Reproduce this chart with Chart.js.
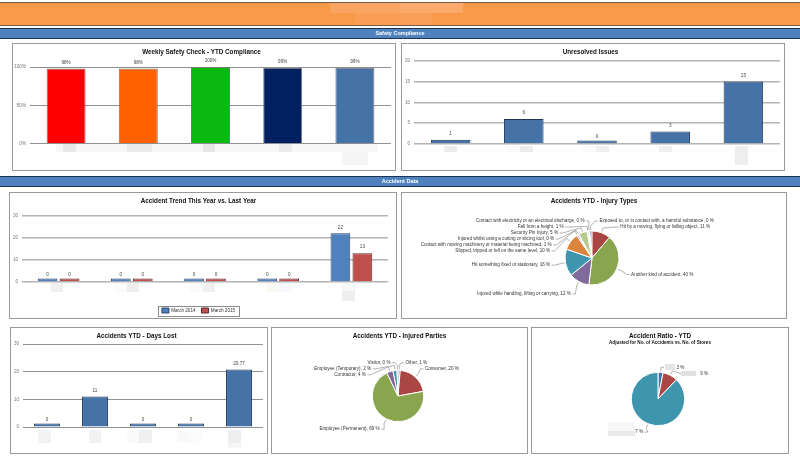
<!DOCTYPE html>
<html><head><meta charset="utf-8">
<script src="https://cdn.jsdelivr.net/npm/chart.js@4"></script>
<style>
html,body{margin:0;padding:0;background:#fff;width:800px;height:462px;overflow:hidden}
#page{position:absolute;left:0;top:0;width:800px;height:462px;filter:blur(0.4px)}
.abs{position:absolute}
.panel{position:absolute;box-sizing:border-box;border:1px solid #9a9a9a;background:#fff}
.panel canvas{position:absolute;left:-1px;top:-1px}
.band{position:absolute;left:0;width:800px;box-sizing:border-box;background:#4f81bd;border-top:1px solid #1c3557;border-bottom:1px solid #1c3557;color:#fff;font:bold 5.5px "Liberation Sans",sans-serif;text-align:center}
</style></head><body><div id="page"></div>
<script>
const FONT='"Liberation Sans", sans-serif';
const stores5=['','','','',''];
const complianceValues=[98,98,100,99,99];
const complianceColors=['#ff0000','#ff6000','#0ab80f','#00205f','#4572a7'];
const complianceTicks=[0,50,100];
const unresolvedValues=[1,6,0,3,15];
const trend2014=[0,0,0,0,22];
const trend2015=[0,0,0,0,13];
const daysLostValues=[0,11,0,0,20.77];
const injuryNames=['Exposed to, or in contact with, a harmful substance, 0 %','Hit by a moving, flying or falling object, 11 %','Another kind of accident, 40 %','Injured while handling, lifting or carrying, 12 %','Hit something fixed or stationary, 16 %','Slipped, tripped or fell on the same level, 10 %','Contact with moving machinery or material being machined, 1 %','Injured whilst using a cutting or slicing tool, 0 %','Security Pin Injury, 5 %','Fall from a height, 1 %','Contact with electricity or an electrical discharge, 0 %'];
const injuryValues=[1.4,11,40,12,16,10,1,0.5,5,1,0.5];
const injuryColors=['#4572a7','#aa4643','#89a54e','#80699b','#3d96ae','#db843d','#92a8cd','#a47d7c','#b5ca8e','#d5dbe4','#c8c8c8'];
const partyNames=['Other, 1 %','Consumer, 20 %','Employee (Permanent), 69 %','Contractor, 4 %','Employee (Temporary), 2 %','Visitor, 0 %'];
const partyValues=[1.4,20.5,70,4,2.5,0.6];
const partyColors=['#4572a7','#aa4643','#89a54e','#80699b','#3d96ae','#db843d'];
const ratioNames=['3 %','9 %','87 %'];
const ratioValues=[3,9,87];
const ratioColors=['#4572a7','#aa4643','#3d96ae'];
const ratioLabelGaps=[11,16,0];
const page=document.getElementById('page');
function box(x,y,w,h,c){const d=document.createElement('div');d.className='abs';d.style.cssText=`left:${x}px;top:${y}px;width:${w}px;height:${h}px;background:${c}`;page.appendChild(d);}
box(0,2,800,24,'#6e5a48');box(0,3,800,22,'#f99a4a');
[[330,3,70,10,'#faa462'],[355,13,45,12,'#fa9e56'],[400,3,63,10,'#fbaa6c'],[400,13,32,12,'#fa9f5a']].forEach(r=>box(...r));
function band(y,h,t){const d=document.createElement('div');d.className='band';d.style.top=y+'px';d.style.height=h+'px';d.style.lineHeight=(h-2)+'px';d.textContent=t;page.appendChild(d);}
band(28,11,'Safety Compliance');band(176,11,'Accident Data');

const barLabels={id:'barLabels',afterDatasetsDraw(c,a,o){if(!o.show)return;const g=c.ctx;g.save();g.font='4.6px '+FONT;g.fillStyle='#444';g.textAlign='center';g.textBaseline='middle';
 c.data.datasets.forEach((ds,i)=>c.getDatasetMeta(i).data.forEach((b,j)=>{g.fillText(ds.data[j]+(o.suffix||''),b.x,b.y-(ds.data[j]===0?3.5:6));}));g.restore();}};
const LEGEND_SHIFT=7;
const legendFrame={id:'legendFrame',afterLayout(c){if(c.options.plugins.legend.display){c.legend.top+=LEGEND_SHIFT;c.legend.bottom+=LEGEND_SHIFT;}},
 afterDraw(c){if(!c.options.plugins.legend.display)return;const g=c.ctx,h=c.legend.legendHitBoxes;if(!h||!h.length)return;
 const x0=Math.min(...h.map(b=>b.left))-4,x1=Math.max(...h.map(b=>b.left+b.width))+4,yc=h[0].top+h[0].height/2;
 g.save();g.strokeStyle='#8a8a8a';g.lineWidth=1;g.strokeRect(Math.round(x0)+.5,Math.round(yc-5)+.5,Math.round(x1-x0),10);g.restore();}};
const pieLabels={id:'pieLabels',afterDatasetsDraw(c,a,o){if(!o.reach)return;const g=c.ctx,arcs=c.getDatasetMeta(0).data,names=c.data.labels,start=c.options.rotation||0;
 const cx=arcs[0].x,cy=arcs[0].y,r=arcs[0].outerRadius,R=r+o.reach,top=cy-R+4,gap=6;
 const items=arcs.map((e,i)=>{const mid=(e.startAngle+e.endAngle)/2;const deg=((mid+Math.PI/2)*180/Math.PI-start+720)%360;return{i,ang:mid,right:deg<180,y:cy+R*Math.sin(mid)};});
 [true,false].forEach(side=>{const s=items.filter(t=>t.right===side).sort((p,q)=>p.y-q.y);let last=top-gap;s.forEach(t=>{t.y=Math.max(t.y,last+gap);last=t.y;});});
 g.save();g.font='4.6px '+FONT;g.textBaseline='middle';
 items.forEach(t=>{const dy=t.y-cy;let dx=Math.sqrt(Math.max(R*R-dy*dy,16));if(Math.abs(t.y-top)<.01)dx=6;const sg=t.right?1:-1;const lx=cx+sg*dx;
  const ex=cx+(r+1)*Math.cos(t.ang),ey=cy+(r+1)*Math.sin(t.ang),mx=cx+(r+5)*Math.cos(t.ang),my=cy+(r+5)*Math.sin(t.ang);
  g.strokeStyle='#a0a0a0';g.lineWidth=.8;g.beginPath();g.moveTo(ex,ey);g.lineTo(mx,my);g.lineTo(lx-sg*3,t.y);g.lineTo(lx,t.y);g.stroke();
  g.fillStyle='#333';g.textAlign=t.right?'left':'right';g.fillText(names[t.i],lx+sg*1.5+(o.gaps&&t.right?o.gaps[t.i]:0),t.y);});
 g.restore();}};
Chart.register(barLabels,legendFrame,pieLabels);

function panel(x,y,w,h){const p=document.createElement('div');p.className='panel';p.style.cssText=`left:${x}px;top:${y}px;width:${w}px;height:${h}px`;const c=document.createElement('canvas');c.width=w;c.height=h;c.style.width=w+'px';c.style.height=h+'px';p.appendChild(c);page.appendChild(p);return c;}
const titleFont={family:FONT,size:6.3,weight:'bold'};
function titleOpt(t,center,bottomPad){return{display:true,text:t,color:'#111',font:{...titleFont,lineHeight:1.2},padding:{top:center-4,bottom:bottomPad}};}
function barChart(b){const c=panel(b.x,b.y,b.w,b.h);
 const plotTop=b.top-b.y,plotBot=b.y+b.h-b.bottom,left=b.left-b.x,right=b.x+b.w-b.right;
 new Chart(c,{type:'bar',data:{labels:stores5,datasets:b.datasets},options:{responsive:false,animation:false,devicePixelRatio:1,
  layout:{padding:{right,top:0,bottom:b.legend?3:0,left:0}},
  plugins:{legend:b.legend?{display:true,position:'bottom',labels:{boxWidth:7,boxHeight:5,font:{family:FONT,size:4.6},color:'#333',padding:6}}:{display:false},
   title:titleOpt(b.title,b.tc-b.y,plotTop-(b.tc-b.y)-4),tooltip:{enabled:false},barLabels:{show:true,suffix:b.suffix}},
  scales:{x:{grid:{display:false},border:{display:false},ticks:{display:false},afterFit(s){s.height=b.xh!==undefined?b.xh:plotBot;}},
   y:{min:b.min,max:b.max,afterBuildTicks(s){s.ticks=b.ticks.map(v=>({value:v}));},afterFit(s){s.width=left;},
    border:{display:false},grid:{color:b.grid||'#b4b4b4',lineWidth:b.gridW||1.5,drawTicks:false},
    ticks:{padding:4,color:'#777',font:{family:FONT,size:4.6},callback:v=>v+(b.suffix||'')}}}}});}
function pieChart(b){const c=panel(b.x,b.y,b.w,b.h);
 const cyRel=b.cy-b.y,cxRel=b.cx-b.x;
 new Chart(c,{type:'pie',data:{labels:b.names,datasets:[{data:b.values,backgroundColor:b.colors,borderColor:'#fff',borderWidth:1}]},
  options:{responsive:false,animation:false,devicePixelRatio:1,radius:b.r,rotation:b.rotation||0,
   layout:{padding:{left:Math.max(0,2*cxRel-b.w),right:Math.max(0,b.w-2*cxRel),top:Math.max(0,2*cyRel-b.h),bottom:Math.max(0,b.h-2*cyRel)}},
   plugins:{legend:{display:false},tooltip:{enabled:false},title:{display:false},pieLabels:{reach:b.reach,gaps:b.gaps}}}});
 const g=document.createElement('div');
 g.className='abs';g.style.cssText=`left:${b.x}px;width:${b.w}px;top:${b.tc-5}px;text-align:center;font:bold 6.3px/10px ${FONT};color:#111`;g.textContent=b.title;page.appendChild(g);
 if(b.sub){const s=document.createElement('div');s.className='abs';s.style.cssText=`left:${b.x}px;width:${b.w}px;top:${b.tc+3}px;text-align:center;font:bold 4.6px/7px ${FONT};color:#111`;s.textContent=b.sub;page.appendChild(s);}
}
barChart({x:12,y:43,w:384,h:128,left:30,right:391,top:67.5,bottom:143.5,tc:52.5,title:'Weekly Safety Check - YTD Compliance',min:0,max:100,ticks:complianceTicks,suffix:'%',grid:'#909090',gridW:1,
 datasets:[{data:complianceValues,backgroundColor:complianceColors,borderColor:'#777',borderWidth:1,barPercentage:.54,categoryPercentage:1}]});
barChart({x:401,y:43,w:384,h:128,left:414,right:780,top:61,bottom:144,tc:52.5,title:'Unresolved Issues',min:0,max:20,ticks:[0,5,10,15,20],
 datasets:[{data:unresolvedValues,backgroundColor:'#4572a7',borderColor:'#1c3557',borderWidth:1,barPercentage:.54,categoryPercentage:1,minBarLength:3.5}]});
barChart({x:9,y:192,w:388,h:127,left:22,right:388,top:216,bottom:281.5,tc:201,title:'Accident Trend This Year vs. Last Year',min:0,max:30,ticks:[0,10,20,30],legend:true,xh:13,
 datasets:[{label:'March 2014',data:trend2014,backgroundColor:'#4f81bd',borderColor:'#2c4770',borderWidth:1,barPercentage:.9,categoryPercentage:.6,minBarLength:3.5},
 {label:'March 2015',data:trend2015,backgroundColor:'#c0504d',borderColor:'#5a2a2a',borderWidth:1,barPercentage:.9,categoryPercentage:.6,minBarLength:3.5}]});
pieChart({x:401,y:192,w:386,h:127,cx:592,cy:258,r:27,reach:14,tc:201,title:'Accidents YTD - Injury Types',names:injuryNames,values:injuryValues,colors:injuryColors,rotation:-5});
barChart({x:10,y:327,w:258,h:127,left:23,right:263,top:344.5,bottom:427,tc:336,title:'Accidents YTD - Days Lost',min:0,max:30,ticks:[0,10,20,30],grid:'#909090',gridW:1,
 datasets:[{data:daysLostValues,backgroundColor:'#4572a7',borderColor:'#1c3557',borderWidth:1,barPercentage:.54,categoryPercentage:1,minBarLength:3.5}]});
pieChart({x:271,y:327,w:257,h:127,cx:398,cy:396,r:25.7,reach:11.5,tc:336,title:'Accidents YTD - Injured Parties',names:partyNames,values:partyValues,colors:partyColors});
pieChart({x:531,y:327,w:258,h:127,cx:658,cy:399,r:26.7,reach:9,tc:336,title:'Accident Ratio - YTD',sub:'Adjusted for No. of Accidents vs. No. of Stores',names:ratioNames,values:ratioValues,colors:ratioColors,gaps:ratioLabelGaps});
[[56,144,322,8,'#f7f7f7'],[63,144,13,8,'#e8e8e8'],[127,144,25,8,'#ebebeb'],[203,144,12,8,'#e6e6e6'],[279,144,13,8,'#ebebeb'],[342,152,26,13,'#f5f5f5'],
 [444,146,13,6,'#ececec'],[507,146,13,6,'#fafafa'],[520,146,13,6,'#ececec'],[583,146,13,6,'#fafafa'],[596,146,13,6,'#f0f0f0'],[659,146,13,6,'#f0f0f0'],[735,146,13,19,'#eeeeee'],
 [51,283,12,9,'#f0f0f0'],[114,283,13,9,'#fbfbfb'],[127,283,12,9,'#eeeeee'],[190,283,13,9,'#fafafa'],[203,283,12,9,'#f0f0f0'],[266,283,13,9,'#fafaf5'],[279,283,12,9,'#f8f8ff'],[342,283,13,8,'#f8f8f8'],[342,291,13,10,'#eeeeee'],
 [38,430,13,13,'#f3f3f3'],[89,430,12,13,'#f2f2f2'],[127,430,12,13,'#fafafa'],[139,430,13,13,'#f0f0f0'],[177,430,13,13,'#fafafa'],[190,430,13,13,'#fcfcfc'],[228,430,13,13,'#eeeeee'],[228,443,13,5,'#f6f6f6'],
 [665,364,10,6,'#e6e6e6'],[681,371,15,5,'#e0e0e0'],[608,422,27,9,'#f7f7f7'],[608,431,27,5,'#eaeaea']].forEach(r=>box(...r));
</script></body></html>
